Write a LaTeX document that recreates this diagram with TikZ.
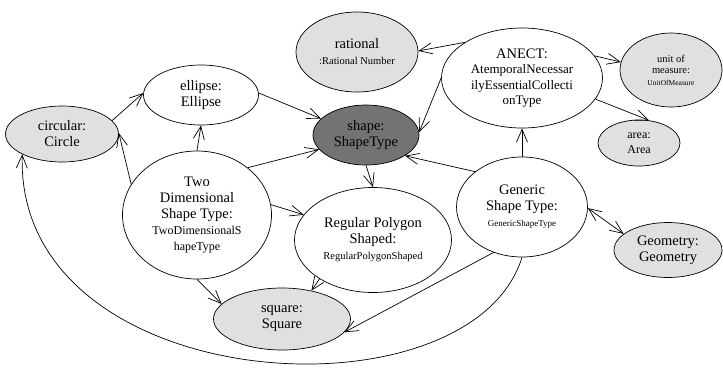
\documentclass[tikz,border=0pt]{standalone}
\usepackage{fontspec}
\setmainfont{Liberation Serif}
\usetikzlibrary{shapes.geometric, arrows.meta}

\definecolor{instfill}{gray}{0.88}
\definecolor{typefill}{gray}{0.45}
\newcommand{\fsmall}{\fontsize{10.5}{12}\selectfont}

\begin{document}
\begin{tikzpicture}[x=1pt, y=-1pt, line width=0.7pt,
		>={Straight Barb[length=13pt,width=11pt]},
		obj/.style={ellipse, draw, inner sep=0pt, align=center, font=\fontsize{14.5}{16}\selectfont},
		inst/.style={obj, fill=instfill}]
				\useasboundingbox (0,0) rectangle (723,368);
				\node[inst, minimum width=113pt, minimum height=56pt] (circ) at (62,134) {circular:\\Circle};
				\node[obj, minimum width=115pt, minimum height=60pt] (ell) at (201,95) {ellipse:\\Ellipse};
				\node[inst, minimum width=122pt, minimum height=80pt] (rat) at (357,52) {rational\\{\fsmall :Rational Number}};
				\node[obj, fill=typefill, minimum width=106pt, minimum height=60pt] (shp) at (366,135) {shape:\\ShapeType};
				\node[obj, minimum width=161pt, minimum height=100pt, font=\fontsize{13}{15.5}\selectfont] (anect) at (522,78) {{\fontsize{14.5}{16}\selectfont ANECT:}\\AtemporalNecessar\\ilyEssentialCollecti\\onType};
				\node[inst, minimum width=102pt, minimum height=74pt, font=\fontsize{10.5}{11.5}\selectfont] (uom) at (671,70) {unit of\\measure:\\{\fontsize{7.5}{9}\selectfont UnitOfMeasure}};
				\node[inst, minimum width=82pt, minimum height=46pt, font=\fontsize{12}{15}\selectfont] (area) at (639,143) {area:\\Area};
				\node[obj, minimum width=149pt, minimum height=128pt] (twod) at (197,215) {Two\\Dimensional\\Shape Type:\\{\fontsize{12}{14}\selectfont TwoDimensionalS}\\{\fontsize{12}{14}\selectfont hapeType}};
				\node[obj, minimum width=157pt, minimum height=105pt] (rps) at (373,240) {Regular Polygon\\Shaped:\\{\fsmall RegularPolygonShaped}};
				\node[obj, minimum width=131pt, minimum height=100pt] (gen) at (522,207) {Generic\\Shape Type:\\{\fontsize{9}{11}\selectfont GenericShapeType}};
				\node[inst, minimum width=108pt, minimum height=55pt] (geo) at (668,250) {Geometry:\\Geometry};
				\node[inst, minimum width=137pt, minimum height=62pt] (sq) at (282,319) {square:\\Square};
				\path[->] (circ.15) edge (ell.178)
					(twod.155) edge (circ.1)
					(twod.90) edge (ell.-90)
					(ell.2) edge (shp.160)
					(twod.43) edge (shp.197)
					(anect.148) edge (rat.1)
					(anect.180) edge (shp.3)
					(anect.17) edge (uom.171)
					(anect.-16) edge (area.66)
					(gen.90) edge (anect.-90)
					(gen.143) edge (shp.-28)
					(shp.-90) edge (rps.90)
					(twod.8) edge (rps.160)
					(rps.216) edge (sq.44)
					(twod.-90) edge (sq.166)
					(gen.238) edge (sq.-12);
				\path[<->] (gen.-1) edge (geo.160);
				\draw[->] (gen.-90) .. controls (470,425) and (15,398) .. (circ.207);
			\end{tikzpicture}
\end{document}
